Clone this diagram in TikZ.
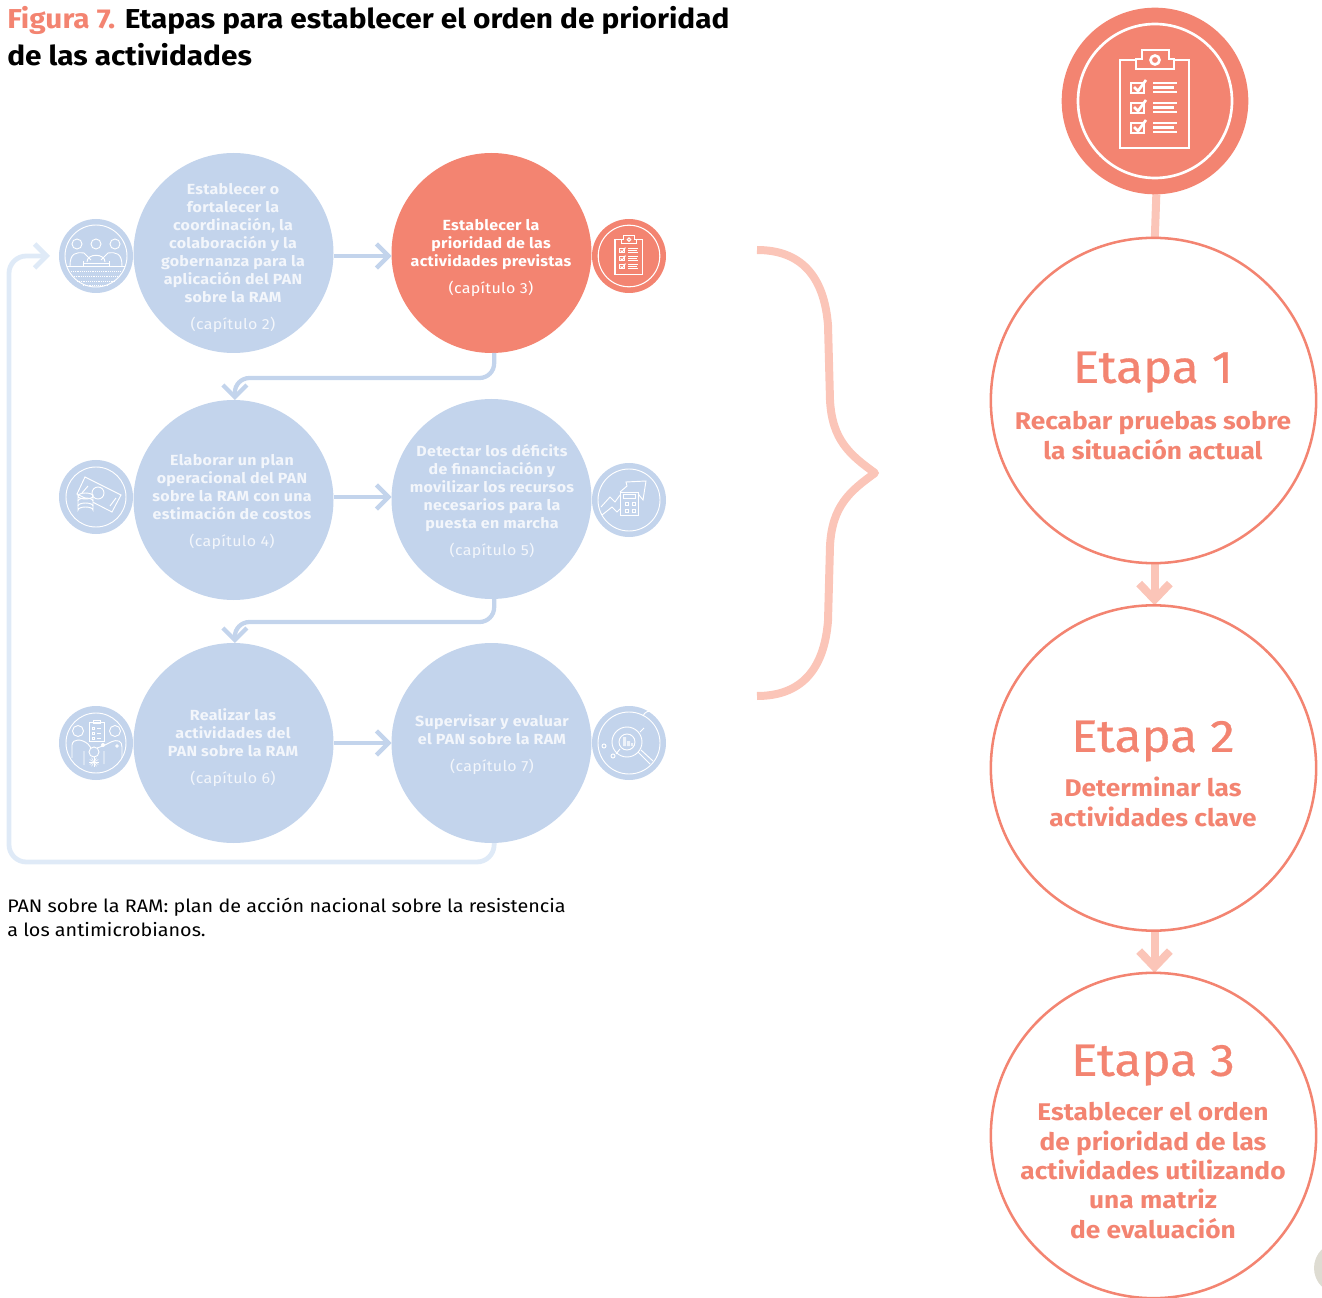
\documentclass[tikz,border=0pt]{standalone}
\usepackage{fontspec}
\usepackage{xcolor}
\usepackage{tikz}
\usetikzlibrary{arrows.meta,backgrounds}
\setmainfont[FakeStretch=1.09]{Fira Sans}
\newfontfamily\headfont[FakeStretch=1.09,FakeBold=0.7]{Fira Sans}
\definecolor{paleblue}{HTML}{C3D4EC}
\definecolor{loopblue}{HTML}{DFEAF7}
\definecolor{softwhite}{HTML}{F3F6FB}
\definecolor{salmon}{HTML}{F38471}
\definecolor{palesalmon}{HTML}{FBC5B8}
\definecolor{pagegrey}{HTML}{DEDCD2}
\newcommand{\chap}[1]{{\mdseries #1}}
\tikzset{
  stage/.style={circle, fill=paleblue, inner sep=0pt, outer sep=0pt, minimum size=150pt},
  stagehot/.style={stage, fill=salmon},
  badge/.style={circle, fill=paleblue, inner sep=0pt, outer sep=0pt, minimum size=55.5pt},
  badgehot/.style={badge, fill=salmon},
  stagetext/.style={align=center, inner sep=0pt, text=softwhite, font=\fontsize{11pt}{13.5pt}\selectfont\bfseries\addfontfeature{LetterSpace=2}},
  etapa/.style={circle, draw=salmon, line width=1.9pt, inner sep=0pt, outer sep=0pt, minimum size=244pt},
  etapahead/.style={inner sep=0pt, text=salmon, font=\fontsize{34pt}{36pt}\selectfont\headfont},
  etapatext/.style={align=center, inner sep=0pt, text=salmon, font=\fontsize{18.1pt}{22pt}\selectfont\bfseries},
  flow/.style={-{Straight Barb[length=9pt,width=18pt]}, line width=3.2pt, paleblue},
  backflow/.style={flow, loopblue, line width=3.6pt, rounded corners=13pt},
  elbow/.style={flow, rounded corners=11pt},
  step arrow/.style={-{Straight Barb[length=12pt,width=23pt]}, line width=6pt, palesalmon},
  iconline/.style={draw=white, line width=0.7pt},
  clipboard/.pic={
    \draw[white] (0,0) circle (77);
    \draw[white] (-35,-41) rectangle (34,47);
    \draw[white, fill=salmon] (-19,-32) -- (-19,-42) -- (-13,-42) -- (-13,-51) -- (14,-51) -- (14,-42) -- (19,-42) -- (19,-32) -- cycle;
    \draw[white] (0,-41) circle (4.5);
    \foreach \row in {0,20,40} {
      \draw[white] (-24,-18+\row) rectangle (-11,-8+\row);
      \draw[white] (-21,-14+\row) -- (-17,-10+\row) -- (-9,-21+\row);
      \draw[white] (-2,-18+\row) -- (22,-18+\row);
      \draw[white] (-2,-13.5+\row) -- (19,-13.5+\row);
      \draw[white] (-2,-9+\row) -- (22,-9+\row);
    }
  },
  meeting/.pic={
    \draw (0,0) circle (31);
    \foreach \xpos in {-19,0,19} \draw (\xpos,-12) circle (5);
    \draw (-26,10) .. controls (-26,-3) and (-20,-4) .. (-12,-3) -- (-5,4);
    \draw (26,10) .. controls (26,-3) and (20,-4) .. (12,-3) -- (5,4);
    \draw (-9,6) .. controls (-9,-3) and (9,-3) .. (9,6);
    \draw (-13,5) -- (-13,10) (13,5) -- (13,10) (-13,7) -- (13,7);
    \draw (-29,10.5) -- (29,10.5);
    \foreach \ypos/\half in {15/25,20/24,25/19,29/13} \draw[densely dotted, line width=0.4pt] (-\half,\ypos) -- (\half,\ypos);
  },
  money/.pic={
    \draw (0,0) circle (30);
    \draw (-11,-20) -- (25,-2) -- (16,15) -- (-19,-3) -- cycle;
    \draw (2,-4) circle (6);
    \draw (-8,-11) -- (-14,-4) (20,1) -- (14,9);
    \draw[fill=paleblue] (-18,-1) arc[start angle=180, end angle=0, x radius=7.5, y radius=3] -- (-3,13) arc[start angle=0, end angle=-180, x radius=7.5, y radius=3] -- cycle;
    \foreach \ypos in {-1,4,9} \draw (-18,\ypos) arc[start angle=180, end angle=360, x radius=7.5, y radius=3];
  },
  budget/.pic={
    \draw (0,0) circle (31);
    \draw (-9,-8) -- (-2,-14) -- (-3,-18) -- (17,-19) -- (14,0) -- (10,-5) -- (9,-8);
    \draw (-28,7) -- (-19,-3) -- (-14,2) -- (-9,-5);
    \draw (-27,15) -- (-17,7) -- (-12,12) -- (-9,9);
    \draw (-9,-8) rectangle (9,15);
    \draw (-6,-6) rectangle (6,-2);
    \foreach \xpos in {-4,3} \foreach \ypos in {2,9} \draw (\xpos,\ypos) rectangle ++(3,3);
  },
  actors/.pic={
    \draw (0,0) circle (30);
    \draw (-7,-21) rectangle (8,-2);
    \draw (-3,-23) rectangle (4,-20);
    \foreach \ypos in {-16,-11,-6} {
      \draw (-4,\ypos) rectangle ++(2.5,2.5);
      \draw (1,\ypos+1) -- (5,\ypos+1);
    }
    \draw (-18,-12) circle (5.5) (19,-12) circle (5.5);
    \draw (-24,15) -- (-24,2) .. controls (-23,-5) and (-14,-4) .. (-8,1) -- (-5,5);
    \draw (-12,22) -- (-12,8) (-2,9) circle (5) (8,21) -- (8,8);
    \draw (1,5) -- (7,3) -- (15,-1) .. controls (22,-4) and (26,-2) .. (26,4) -- (26,15);
    \fill[white] (7,2) circle (2);
    \draw (21,3) circle (1.2);
    \foreach \ang in {0,30,...,330} \draw[line width=0.4pt] (-2,19) -- ++(\ang:5);
  },
  monitor/.pic={
    \draw (0,0) circle (31);
    \draw (-2,-1) circle (15) (-2,-1) circle (8);
    \fill[white, fill opacity=0.7] (-6,-6) rectangle (-3,3) (-2,-2) rectangle (1,3) (2,0) rectangle (4,3);
    \draw (9,9) -- (21,21) (12,7) -- (24,18);
    \draw (14,-27) arc[start angle=200, end angle=340, radius=7.5];
    \draw (-25,3) circle (2) (-16,13) circle (2);
    \draw (-13,11) -- (-9,6) (11,-11) -- (15,-15);
  }
}
\begin{document}
\begin{tikzpicture}[x=0.75pt, y=-0.75pt]
\useasboundingbox (0,0) rectangle (1322,1298);

% Title and note
\node[anchor=base west, inner sep=0pt, font=\fontsize{20.5pt}{24pt}\selectfont\bfseries] (title1) at (7,29) {\textcolor{salmon}{Figura 7.} Etapas para establecer el orden de prioridad};
\node[anchor=base west, inner sep=0pt, font=\fontsize{20.5pt}{24pt}\selectfont\bfseries] (title2) at (7,66) {de las actividades};
\node[anchor=base west, inner sep=0pt, font=\fontsize{13.6pt}{16pt}\selectfont] (note1) at (7,912) {PAN sobre la RAM: plan de acción nacional sobre la resistencia};
\node[anchor=base west, inner sep=0pt, font=\fontsize{13.6pt}{16pt}\selectfont] (note2) at (7,936) {a los antimicrobianos.};

% Stage circles
\node[stage] (c1) at (233.5,253) {};
\node[stagehot] (c2) at (491.5,253) {};
\node[stage] (c3) at (233.5,500) {};
\node[stage] (c4) at (491.5,499) {};
\node[stage] (c5) at (233.5,743) {};
\node[stage] (c6) at (491.5,743) {};

% Stage texts
\node[stagetext] (t1) at (233,258) {Establecer o\\fortalecer la\\coordinación, la\\colaboración y la\\gobernanza para la\\aplicación del PAN\\sobre la RAM\\[6.5pt]\chap{(capítulo 2)}};
\node[stagetext, text=white] (t2) at (491,258) {Establecer la\\prioridad de las\\actividades previstas\\[6.5pt]\chap{(capítulo 3)}};
\node[stagetext] (t3) at (232,502) {Elaborar un plan\\operacional del PAN\\sobre la RAM con una\\estimación de costos\\[6.5pt]\chap{(capítulo 4)}};
\node[stagetext] (t4) at (492,501.5) {Detectar los déficits\\de financiación y\\movilizar los recursos\\necesarios para la\\puesta en marcha\\[6.5pt]\chap{(capítulo 5)}};
\node[stagetext] (t5) at (233,747.5) {Realizar las\\actividades del\\PAN sobre la RAM\\[6.5pt]\chap{(capítulo 6)}};
\node[stagetext] (t6) at (492,744.5) {Supervisar y evaluar\\el PAN sobre la RAM\\[6.5pt]\chap{(capítulo 7)}};

% Badges with their icons
\node[badge] (b1) at (96,256) {};
\node[badgehot] (b2) at (629,256) {};
\node[badge] (b3) at (96,497) {};
\node[badge] (b4) at (629,500) {};
\node[badge] (b5) at (96,743) {};
\node[badge] (b6) at (629,743) {};
\pic[iconline] at (b1) {meeting};
\pic[scale=0.4, line width=0.8pt] at (b2) {clipboard};
\pic[iconline] at (b3) {money};
\pic[iconline] at (b4) {budget};
\pic[iconline] at (b5) {actors};
\pic[iconline] at (b6) {monitor};

% Arrows between stages
\draw[flow] ([yshift=-2.25pt]c1.east) -- ([yshift=-2.25pt]c2.west);
\draw[flow] ([yshift=2.25pt]c3.east) -- ([yshift=1.5pt]c4.west);
\draw[flow] (c5.east) -- (c6.west);
\draw[elbow] ([xshift=2pt]c2.south) -- ++(0,25) -| ([xshift=1pt]c3.north);
\draw[elbow] ([xshift=2pt]c4.south) -- ++(0,23) -| ([xshift=1pt]c5.north);

% Way back to the first stage
\coordinate (loopbottom) at (9,862);
\coordinate (loopend) at (50,256);
\draw[backflow] ([xshift=2pt]c6.south) |- (loopbottom) |- (loopend);

% Brace
\draw[palesalmon, line width=6pt, line join=round] (757,250) .. controls (800,250) and (824,275) .. (828,325) -- (830,400) .. controls (832,440) and (850,455) .. (875,473) .. controls (850,491) and (832,506) .. (830,546) -- (828,621) .. controls (824,671) and (800,696) .. (757,696);

% Right column
\node[circle, fill=salmon, inner sep=0pt, outer sep=0pt, minimum size=140pt] (top) at (1155,101) {};
\pic[line width=2pt] at (top) {clipboard};
\node[etapa] (e1) at (1153.5,400.5) {};
\node[etapa] (e2) at (1153.5,768) {};
\node[etapa] (e3) at (1153.5,1135.5) {};
\begin{scope}[on background layer]
\draw[palesalmon, line width=6pt] ([xshift=1pt]top.south) -- ([xshift=1pt]e1.north);
\draw[step arrow] ([xshift=0.75pt]e1.south) -- ([xshift=0.75pt]e2.north);
\draw[step arrow] ([xshift=0.75pt]e2.south) -- ([xshift=0.75pt]e3.north);
\end{scope}

% Right column texts
\node[etapahead] (h1) at (1153,372) {Etapa 1};
\node[etapatext] (s1) at (1153,435.5) {Recabar pruebas sobre\\la situación actual};
\node[etapahead] (h2) at (1153,741) {Etapa 2};
\node[etapatext] (s2) at (1153,802) {Determinar las\\actividades clave};
\node[etapahead] (h3) at (1153,1065) {Etapa 3};
\node[etapatext] (s3) at (1153,1170.5) {Establecer el orden\\de prioridad de las\\actividades utilizando\\una matriz\\de evaluación};

% Corner of the page marker
\begin{scope}
\clip (0,0) rectangle (1322,1298);
\fill[pagegrey] (1340,1268) circle (26);
\end{scope}
\end{tikzpicture}
\end{document}
